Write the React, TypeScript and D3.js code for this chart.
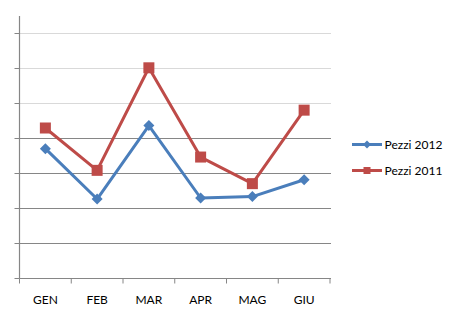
import React from "react";
import * as d3 from "d3";

const categories = ["GEN", "FEB", "MAR", "APR", "MAG", "GIU"];
const pezzi2012 = [3.71, 2.27, 4.37, 2.3, 2.34, 2.82];
const pezzi2011 = [4.3, 3.09, 6.02, 3.47, 2.71, 4.81];
const gridValues = [0, 1, 2, 3, 4, 5, 6, 7];

const BLUE = "#4a7ebb";
const RED = "#be4b48";
const AXIS = "#868686";
const FONT = "Lato, 'Open Sans', sans-serif";

export default function App() {
  const left = 19.5, right = 330, top = 16, bottom = 278.5;
  const x = d3.scaleBand<string>().domain(categories).range([left, right]);
  const y = d3.scaleLinear().domain([0, 7.5]).range([bottom, top]);
  const cx = (c: string) => (x(c) as number) + x.bandwidth() / 2;
  const line = d3.line<number>().x((_, i) => cx(categories[i])).y((v) => y(v));

  const diamond = (px: number, py: number, r: number) =>
    `M${px},${py - r}L${px + r},${py}L${px},${py + r}L${px - r},${py}Z`;

  return (
    <svg width={450} height={316} style={{ position: "absolute", left: 0, top: 0, background: "#fff" }}>
      {gridValues.map((g) => (
        <g key={g}>
          {g > 0 && (
            <line x1={left} x2={331} y1={y(g)} y2={y(g)} stroke={g >= 5 ? "#d9d9d9" : AXIS} strokeWidth={1.2} />
          )}
          <line x1={14.5} x2={left} y1={y(g)} y2={y(g)} stroke={AXIS} strokeWidth={1} />
        </g>
      ))}
      <line x1={left} x2={left} y1={top} y2={bottom} stroke={AXIS} strokeWidth={1.2} />
      <line x1={left} x2={331} y1={bottom} y2={bottom} stroke={AXIS} strokeWidth={1.2} />
      {[...categories.map((c) => x(c) as number), right].map((t, i) => (
        <line key={i} x1={t} x2={t} y1={bottom} y2={bottom + 5} stroke={AXIS} strokeWidth={1} />
      ))}
      {categories.map((c) => (
        <text key={c} x={cx(c)} y={304} textAnchor="middle" fontFamily={FONT} fontSize={12} fill="#000">
          {c}
        </text>
      ))}
      <path d={line(pezzi2012) || ""} fill="none" stroke={BLUE} strokeWidth={3} strokeLinejoin="round" />
      <path d={line(pezzi2011) || ""} fill="none" stroke={RED} strokeWidth={3} strokeLinejoin="round" />
      {pezzi2012.map((v, i) => (
        <path key={i} d={diamond(cx(categories[i]), y(v), 5.5)} fill={BLUE} />
      ))}
      {pezzi2011.map((v, i) => (
        <rect key={i} x={cx(categories[i]) - 5.5} y={y(v) - 5.5} width={11} height={11} fill={RED} />
      ))}
      <g>
        <line x1={352} x2={382} y1={144.5} y2={144.5} stroke={BLUE} strokeWidth={3} />
        <path d={diamond(367, 144.5, 4)} fill={BLUE} />
        <text x={384.5} y={149} fontFamily={FONT} fontSize={12} fill="#000">Pezzi 2012</text>
        <line x1={352} x2={382} y1={170.5} y2={170.5} stroke={RED} strokeWidth={3} />
        <rect x={363.5} y={167} width={7} height={7} fill={RED} />
        <text x={384.5} y={175} fontFamily={FONT} fontSize={12} fill="#000">Pezzi 2011</text>
      </g>
    </svg>
  );
}
